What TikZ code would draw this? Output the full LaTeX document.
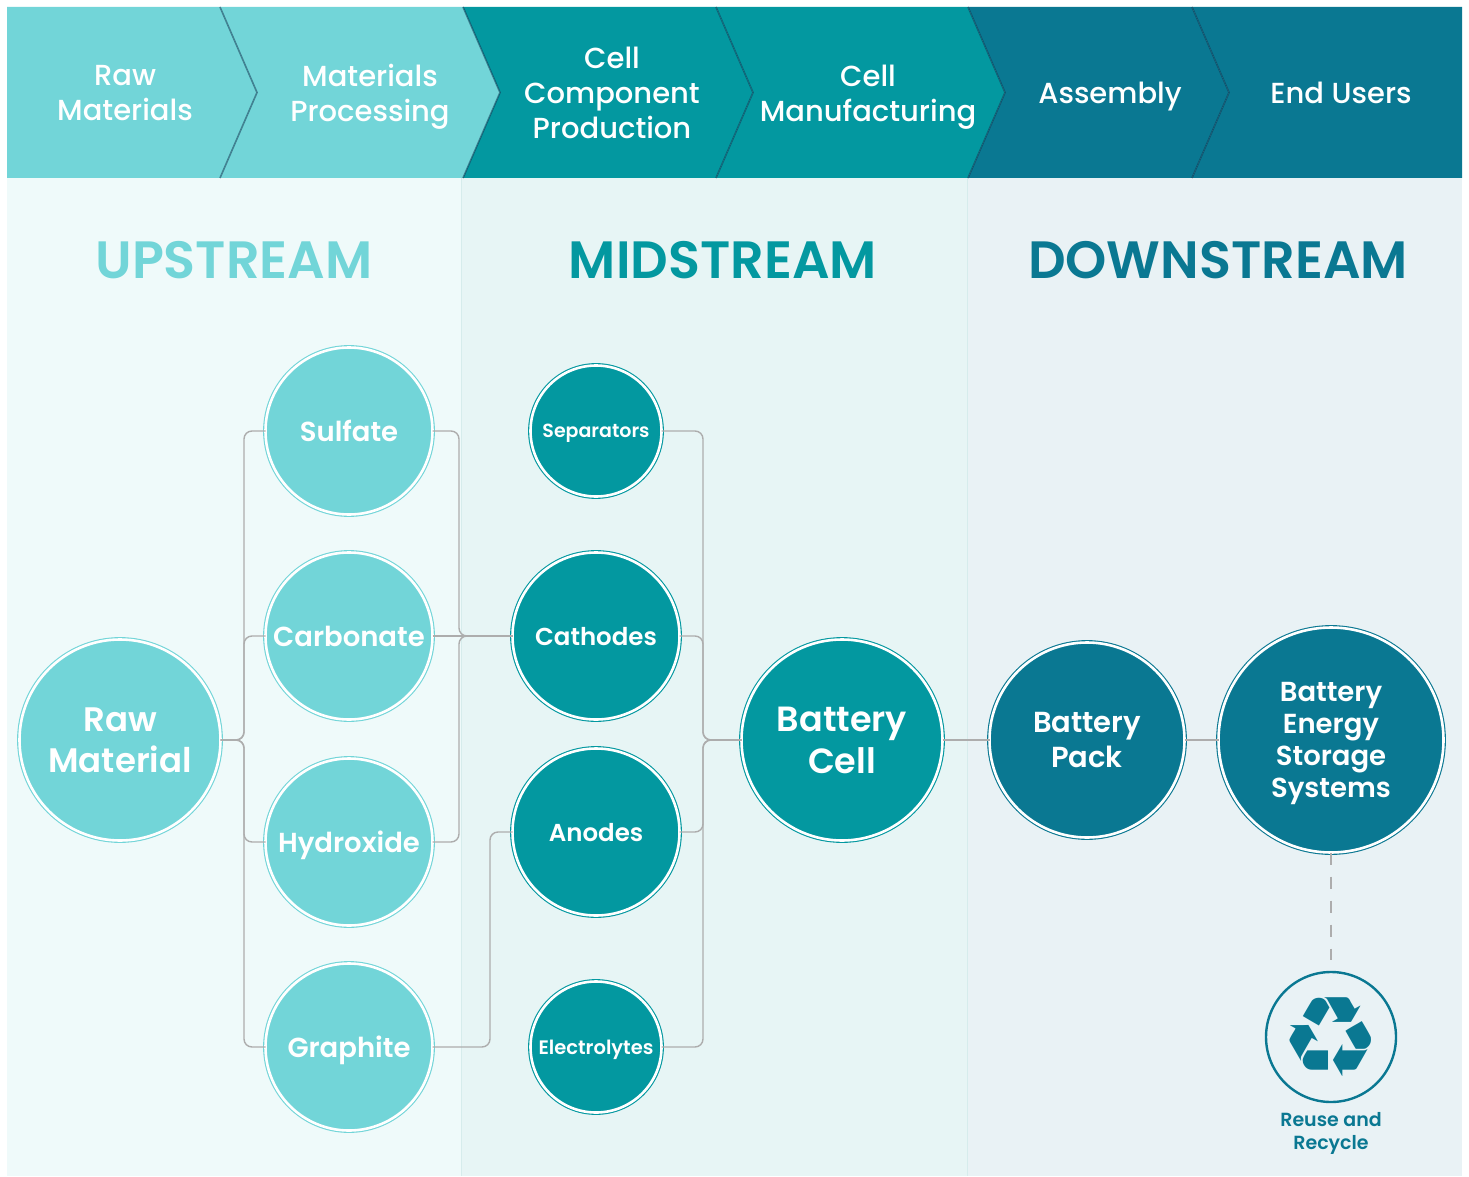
\documentclass[tikz,border=0pt]{standalone}
\usepackage{fontspec}
\setmainfont{Poppins}
\newfontfamily\fmed{Poppins Medium}
\newfontfamily\fsemi{Poppins SemiBold}
\newfontfamily\dejavu{DejaVu Sans}
\definecolor{cL}{HTML}{72D5D8}
\definecolor{cM}{HTML}{0398A0}
\definecolor{cD}{HTML}{0A7892}
\definecolor{bgU}{HTML}{EFFAFA}
\definecolor{bgM}{HTML}{E7F5F5}
\definecolor{bgD}{HTML}{E9F2F5}
\definecolor{sepc}{HTML}{D6ECEC}
\definecolor{conn}{HTML}{ADADAD}
\definecolor{shad}{HTML}{123A55}
\begin{document}
\begin{tikzpicture}[x=1pt,y=-1pt,
  ball/.style={circle, inner sep=0pt, outer sep=0pt, draw=#1, fill=#1, double=white,
    double distance=2.6pt, line width=1.1pt, text=white, align=center, text depth=0pt},
  bannertxt/.style={text=white, align=center, text depth=0pt, font=\fmed\fontsize{29}{35}\selectfont},
  heading/.style={font=\fsemi\fontsize{52.5}{52.5}\selectfont},
  link/.style={draw=conn, line width=1.4pt, rounded corners=8pt},
  chevedge/.style={draw=shad, line width=1.6pt, opacity=0.55},
  f34/.style={font=\fsemi\fontsize{34}{41}\selectfont},
  f36/.style={font=\fsemi\fontsize{35}{42}\selectfont},
  f28/.style={font=\fsemi\fontsize{27.5}{32}\selectfont},
  f30/.style={font=\fsemi\fontsize{29}{35}\selectfont},
  f24/.style={font=\fsemi\fontsize{24.5}{28}\selectfont},
  f19/.style={font=\fsemi\fontsize{19}{22}\selectfont},
  f20/.style={font=\fsemi\fontsize{19.5}{22}\selectfont}]
\useasboundingbox[fill=white] (0,0) rectangle (1469,1177);
% bands
\fill[bgU] (7,178) rectangle (461,1176);
\fill[bgM] (461,178) rectangle (967,1176);
\fill[bgD] (967,178) rectangle (1462,1176);
\draw[sepc, line width=0.8pt] (461,178) -- (461,1176) (967,178) -- (967,1176);
% banner
\fill[cL] (7,7) -- (220,7) -- (257,92.5) -- (220,178) -- (7,178) -- cycle;
\fill[cL] (220,7) -- (463,7) -- (500,92.5) -- (463,178) -- (220,178) -- (257,92.5) -- cycle;
\fill[cM] (463,7) -- (716,7) -- (753,92.5) -- (716,178) -- (463,178) -- (500,92.5) -- cycle;
\fill[cM] (716,7) -- (968,7) -- (1005,92.5) -- (968,178) -- (716,178) -- (753,92.5) -- cycle;
\fill[cD] (968,7) -- (1192,7) -- (1229,92.5) -- (1192,178) -- (968,178) -- (1005,92.5) -- cycle;
\fill[cD] (1192,7) -- (1462,7) -- (1462,178) -- (1192,178) -- (1229,92.5) -- cycle;
\foreach \a in {220,463,716,968,1192}{
  \draw[chevedge] (\a,7) -- (\a+37,92.5) -- (\a,178);
}
\node[bannertxt] (h1) at (125,93) {Raw\\Materials};
\node[bannertxt] (h2) at (370,93) {Materials\\Processing};
\node[bannertxt] (h3) at (612,93) {Cell\\Component\\Production};
\node[bannertxt] (h4) at (868,93) {Cell\\Manufacturing};
\node[bannertxt] (h5) at (1110,93) {Assembly};
\node[bannertxt] (h6) at (1341,93) {End Users};
% headings
\node[heading, text=cL] (up) at (234,260) {UPSTREAM};
\node[heading, text=cM] (mid) at (723,260) {MIDSTREAM};
\node[heading, text=cD] (down) at (1218,260) {DOWNSTREAM};
% bus coordinates
\coordinate (b1) at (244,0);
\coordinate (b2) at (459,0);
\coordinate (b3) at (490,0);
\coordinate (b4) at (703,0);
% circles
\node[ball=cL, minimum size=201pt, f34] (raw) at (120,740) {Raw\\Material};
\node[ball=cL, minimum size=167pt, f28] (sul) at (349,431) {Sulfate};
\node[ball=cL, minimum size=167pt, f28] (car) at (349,636) {Carbonate};
\node[ball=cL, minimum size=167pt, f28] (hyd) at (349,842) {Hydroxide};
\node[ball=cL, minimum size=167pt, f28] (gra) at (349,1047) {Graphite};
\node[ball=cM, minimum size=131pt, f19] (sep) at (596,431) {Separators};
\node[ball=cM, minimum size=167pt, f24] (cat) at (596,636) {Cathodes};
\node[ball=cM, minimum size=167pt, f24] (ano) at (596,832) {Anodes};
\node[ball=cM, minimum size=131pt, f20] (ele) at (596,1047) {Electrolytes};
\node[ball=cM, minimum size=201pt, f36] (cell) at (842,740) {Battery\\Cell};
\node[ball=cD, minimum size=195pt, f30] (pack) at (1087,740) {Battery\\Pack};
\node[ball=cD, minimum size=225pt, f28] (bess) at (1331,740) {Battery\\Energy\\Storage\\Systems};
\node[circle, draw=cD, line width=2.4pt, minimum size=130pt, inner sep=0pt, text=cD,
  font=\dejavu\fontsize{112}{112}\selectfont] (rec) at (1331,1037) {♻};
\node[text=cD, align=center, font=\fsemi\fontsize{19}{23}\selectfont] (reclbl) at (1331,1133) {Reuse and\\Recycle};
% connectors
\foreach \c in {sul,car,hyd,gra}{
  \path[link] (raw.east) -- (raw.east -| b1) |- (\c.west);
}
\path[link] (sul.east) -- (sul.east -| b2) |- (cat.west);
\path[link] (hyd.east) -- (hyd.east -| b2) |- (cat.west);
\path[link] (car.east) -- (cat.west);
\path[link] (gra.east) -- (gra.east -| b3) |- (ano.west);
\foreach \c in {sep,cat,ano,ele}{
  \path[link] (\c.east) -- (\c.east -| b4) |- (cell.west);
}
\path[link] (cell.east) -- (pack.west);
\path[link] (pack.east) -- (bess.west);
\draw[conn, line width=2.4pt, dash pattern=on 12pt off 12pt] (bess.south) -- ([yshift=11pt]rec.north);
\end{tikzpicture}
\end{document}
